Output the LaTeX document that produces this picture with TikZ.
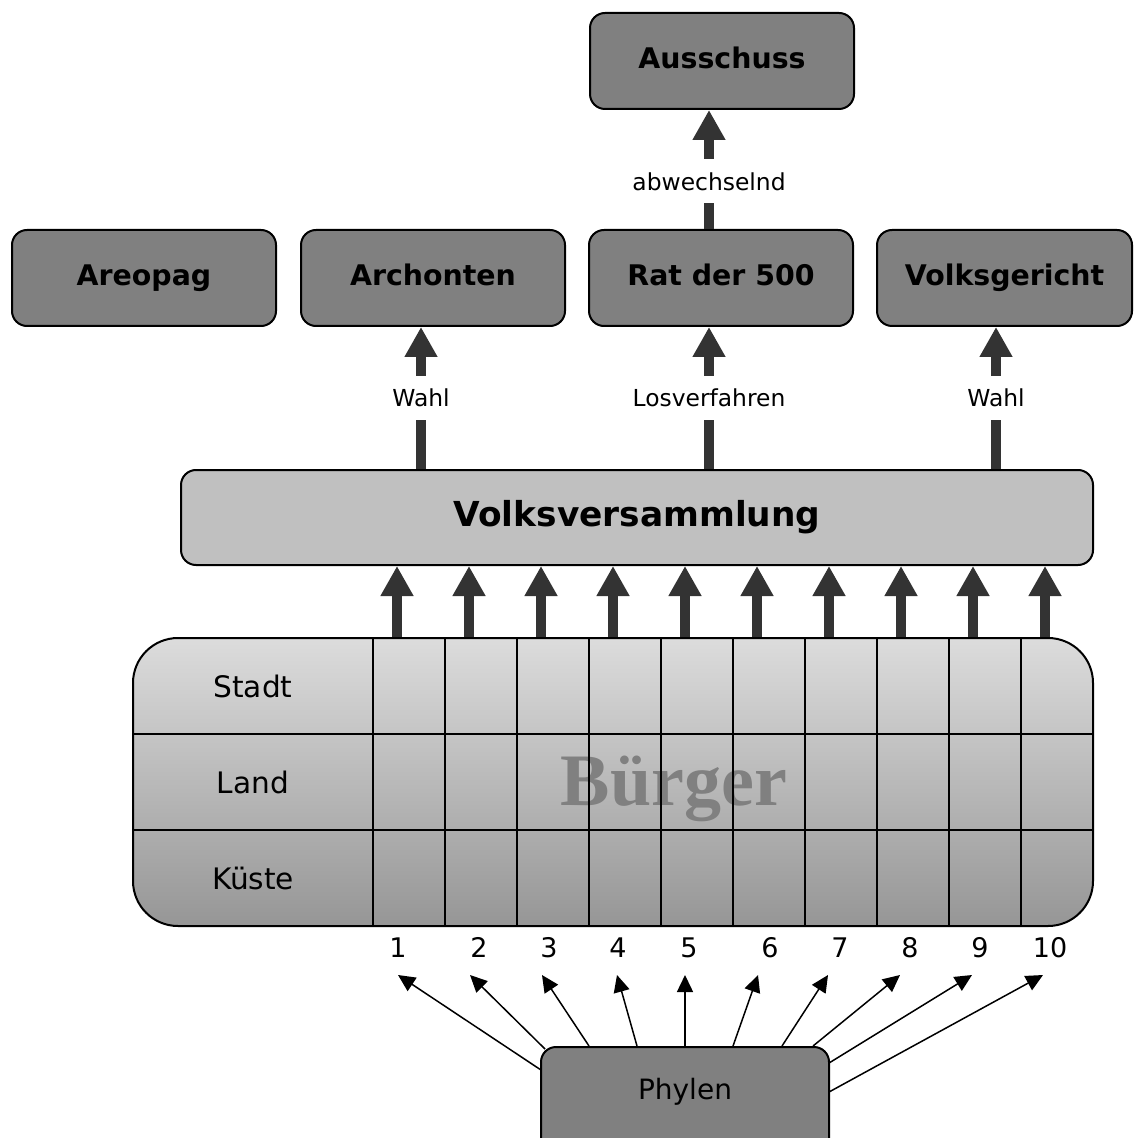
\documentclass[tikz,border=0pt]{standalone}
\usepackage{fontspec}
\setmainfont{DejaVu Sans}
\newfontfamily\titleserif{Liberation Serif}
\usetikzlibrary{arrows.meta}
\definecolor{boxgray}{HTML}{808080}
\definecolor{assembly}{HTML}{C0C0C0}
\definecolor{shaft}{HTML}{333333}
\definecolor{rowtop}{HTML}{DCDCDC}
\definecolor{rowbottom}{HTML}{969696}
\definecolor{watermark}{HTML}{808080}

\begin{document}
\begin{tikzpicture}[x=0.5pt,y=-0.5pt,
  organ/.style={draw, line width=1pt, fill=boxgray, rounded corners=7.5pt,
    minimum width=132pt, minimum height=48pt, inner sep=0pt,
    text height=10.5pt, text depth=3pt,
    font=\fontsize{14.2}{17}\selectfont\bfseries},
  bigarrow/.style={draw=shaft, line width=5pt, -{Triangle[length=15pt,width=15.5pt]}},
  thinarrow/.style={line width=0.75pt, -{Triangle[length=8.5pt,width=8pt]}},
  lbl/.style={fill=white, inner xsep=2pt, inner ysep=6.5pt,
    font=\fontsize{11.7}{14}\selectfont},
  rowlbl/.style={font=\fontsize{14.8}{18}\selectfont},
  num/.style={font=\fontsize{13.5}{16}\selectfont, inner sep=0pt, anchor=base},
  grid/.style={line width=0.9pt},
]
\useasboundingbox (0,0) rectangle (1133,1138);
\clip (0,0) rectangle (1133,1138);

% offices
\node[organ] (aus) at (722,61) {Ausschuss};
\node[organ] (areo) at (144,278) {Areopag};
\node[organ] (arch) at (433,278) {Archonten};
\node[organ] (rat) at (721,278) {Rat der 500};
\node[organ, minimum width=127.5pt] (vg) at (1004.5,278) {Volksgericht};

% assembly
\node[draw, line width=1pt, fill=assembly, rounded corners=7.5pt,
  minimum width=456pt, minimum height=47.5pt, inner sep=0pt,
  font=\fontsize{17.2}{20}\selectfont\bfseries] (vv) at (637,517.5) {Volksversammlung};

% citizens table
\node[draw, line width=1pt, top color=rowtop, bottom color=rowbottom,
  rounded corners=22.5pt, minimum width=480pt, minimum height=144pt,
  inner sep=0pt] (tab) at (613,782) {};
\node[anchor=base, text=watermark, inner sep=0pt,
  font=\titleserif\bfseries\fontsize{37}{40}\selectfont] (bu) at (674,805) {Bürger};
\draw[grid] (133,734) -- (1093,734);
\draw[grid] (133,830) -- (1093,830);
\foreach \i in {0,...,9}
  \draw[grid] ({373+72*\i},638) -- ({373+72*\i},926);
\node[rowlbl] (stadt) at (253,686) {Stadt};
\node[rowlbl] (land) at (253,782) {Land};
\node[rowlbl] (kueste) at (253,878) {Küste};

% columns feeding the assembly
\foreach \i in {0,...,9} {
  \coordinate (c\i) at ({397+72*\i},0);
  \draw[bigarrow] (c\i |- tab.north) -- (c\i |- vv.south);
}

% selection arrows
\coordinate (xa) at (421,0);
\coordinate (xr) at (709,0);
\coordinate (xv) at (996,0);
\draw[bigarrow] (xa |- vv.north) -- (xa |- arch.south) node[lbl, pos=.5] (w1) {Wahl};
\draw[bigarrow] (xr |- vv.north) -- (xr |- rat.south) node[lbl, pos=.5] (lv) {Losverfahren};
\draw[bigarrow] (xv |- vv.north) -- (xv |- vg.south) node[lbl, pos=.5] (w2) {Wahl};
\draw[bigarrow] (xr |- rat.north) -- (xr |- aus.south) node[lbl, pos=.4] (ab) {abwechselnd};

% phyle numbers
\foreach \i/\x in {1/398,2/479,3/549,4/618,5/689,6/770,7/840,8/910,9/980,10/1050}
  \node[num] (n\i) at (\x,957) {\i};

% arrows from the phyles
\foreach \i/\sx/\sy/\tx in {1/541/1070/398, 2/545/1049/470, 3/589/1046/542,
    4/637/1046/617, 5/685/1046/685, 6/733/1046/758, 7/782/1046/828,
    8/813/1046/900, 9/829/1063/972, 10/829/1092/1043} {
  \coordinate (s\i) at (\sx,\sy);
  \coordinate (t\i) at (\tx,975);
  \draw[thinarrow] (s\i) -- (t\i);
}
\node[draw, line width=1pt, fill=boxgray, rounded corners=7.5pt,
  minimum width=144pt, minimum height=60pt, inner sep=0pt, anchor=north] (ph) at (685,1046) {};
\node[font=\fontsize{14}{17}\selectfont] (pht) at (685,1092) {Phylen};
\end{tikzpicture}
\end{document}
